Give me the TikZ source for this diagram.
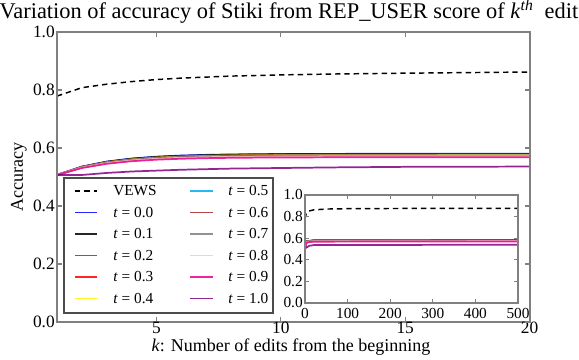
\documentclass[tikz,border=0pt]{standalone}
\usepackage{fontspec}
\setmainfont{Liberation Serif}
\usetikzlibrary{positioning}

\begin{document}
\begin{tikzpicture}[
        x=0.75pt,y=-0.75pt,
        frame/.style={draw=gray,line width=1.2pt},
        tick/.style={draw=gray,line width=0.8pt},
        ticklabel/.style={font=\fontsize{13}{13}\selectfont,inner sep=0pt},
        insetlabel/.style={font=\fontsize{11.5}{11.5}\selectfont,inner sep=0pt},
        keytext/.style={font=\fontsize{11.5}{11.5}\selectfont,inner sep=0pt,anchor=west},
        curve/.style={line width=1.3pt,opacity=0.85},
        vews/.style={line width=1.1pt,dash pattern=on 4pt off 3pt}
    ]
    \colorlet{tcol0}{blue}
    \colorlet{tcol1}{black}
    \definecolor{tcol2}{rgb}{0,0.5,0}
    \colorlet{tcol3}{red}
    \colorlet{tcol4}{yellow}
    \colorlet{tcol5}{cyan}
    \definecolor{tcol6}{rgb}{0.65,0.16,0.16}
    \definecolor{tcol7}{rgb}{0.5,0.5,0.5}
    \definecolor{tcol8}{rgb}{1,0.75,0.8}
    \colorlet{tcol9}{magenta}
    \definecolor{tcol10}{rgb}{0.5,0,0.5}

    \useasboundingbox (0,0) rectangle (579,360);

    % title and axis labels
    \node (title) [anchor=base,font=\fontsize{16.8}{16.8}\selectfont,inner sep=0pt] at (289,19)
        {Variation of accuracy of Stiki from REP\_USER score of \textit{k}\textsuperscript{\textit{th}}\ \ edit};
    \node (ylab) [rotate=90,font=\fontsize{13.5}{13.5}\selectfont,inner sep=0pt] at (19,177) {Accuracy};
    \node (xlab) [anchor=base,font=\fontsize{13.5}{13.5}\selectfont,inner sep=0pt] at (291,351.5)
        {\textit{k}: Number of edits from the beginning};

    % main curves
    \begin{scope}[shift={(32.13,322)},x=18.65pt,y=217.5pt]
        \draw[vews] plot coordinates {(1,0.779) (2,0.808) (3,0.820) (4,0.829) (5,0.836) (6,0.841)
            (8,0.848) (10,0.852) (12,0.855) (15,0.858) (20,0.862)};
        \foreach \i/\a in {0/0.073,1/0.0718,2/0.0706,3/0.0694,4/0.0685,5/0.0676,6/0.0667,7/0.0658,8/0.0645,9/0.061}
            \draw[curve,tcol\i] plot[domain=1:20,samples=20] (\x,{0.507+\a*(1-exp(-(\x-1)/2))});
        \draw[curve,tcol10] plot coordinates {(1,0.507) (2,0.507) (3,0.514) (4,0.519) (5,0.522) (6,0.525)
            (8,0.529) (10,0.531) (12,0.533) (15,0.535) (20,0.536)};
    \end{scope}

    % main frame, ticks, tick labels
    \draw[frame] (57,32) rectangle (530,322);
    \foreach \k in {5,10,15} {
        \draw[tick] (32.13+24.87*\k,322) -- ++(0,-5);
        \draw[tick] (32.13+24.87*\k,32) -- ++(0,5);
    }
    \foreach \k in {5,10,15,20}
        \node (xt\k) [ticklabel,anchor=base] at (32.13+24.87*\k,333.5) {\k};
    \foreach \v/\lab in {0/0.0,1/0.2,2/0.4,3/0.6,4/0.8,5/1.0} {
        \draw[tick] (57,322-58*\v) -- ++(5,0);
        \draw[tick] (530,322-58*\v) -- ++(-5,0);
        \node (yt\v) [ticklabel,anchor=east] at (55,322-58*\v) {\lab};
    }

    % legend
    \draw[draw=black!70,fill=white,line width=1pt] (64,178) rectangle (273,313);
    \draw[vews,black] (75,191) -- (97,191);
    \node (key) [keytext] at (113,191) {VEWS};
    \foreach \i/\lab in {0/0.0,1/0.1,2/0.2,3/0.3,4/0.4} {
        \draw[curve,tcol\i] (75,212.5+21.5*\i) -- (97,212.5+21.5*\i);
        \node (key\i) [keytext] at (113,212.5+21.5*\i) {\textit{t} = \lab};
    }
    \foreach \i/\lab [count=\r from 0] in {5/0.5,6/0.6,7/0.7,8/0.8,9/0.9,10/1.0} {
        \draw[curve,tcol\i] (190,191+21.5*\r) -- (213,191+21.5*\r);
        \node (key\i) [keytext] at (228,191+21.5*\r) {\textit{t} = \lab};
    }

    % inset
    \fill[white] (305,195) rectangle (518,303);
    \begin{scope}[shift={(305,303)},x=0.426*0.75pt,y=81pt]
        \draw[vews] plot coordinates {(0,0.78) (3,0.83) (8,0.85) (20,0.862) (50,0.87) (100,0.873) (200,0.875) (500,0.877)};
        \foreach \i/\a in {0/0.073,1/0.0718,2/0.0706,3/0.0694,4/0.0685,5/0.0676,6/0.0667,7/0.0658,8/0.0645,9/0.061}
            \draw[curve,tcol\i] plot coordinates {(0,0.507) (2,{0.507+0.6*\a}) (5,{0.507+0.9*\a}) (20,{0.507+\a}) (500,{0.509+\a})};
        \draw[curve,tcol10] plot coordinates {(0,0.507) (3,0.512) (10,0.53) (20,0.536) (500,0.540)};
    \end{scope}
    \draw[frame] (305,195) rectangle (518,303);
    \foreach \n in {1,...,4} {
        \draw[tick] (305+42.6*\n,303) -- ++(0,-4);
        \draw[tick] (305+42.6*\n,195) -- ++(0,4);
        \draw[tick] (305,303-21.6*\n) -- ++(4,0);
        \draw[tick] (518,303-21.6*\n) -- ++(-4,0);
    }
    \foreach \n/\lab in {0/0,1/100,2/200,3/300,4/400,5/500}
        \node (it\n) [insetlabel,anchor=base] at (305+42.6*\n,318) {\lab};
    \foreach \n/\lab in {0/0.0,1/0.2,2/0.4,3/0.6,4/0.8,5/1.0}
        \node (iy\n) [insetlabel,anchor=east] at (303,303-21.6*\n) {\lab};
\end{tikzpicture}
\end{document}
